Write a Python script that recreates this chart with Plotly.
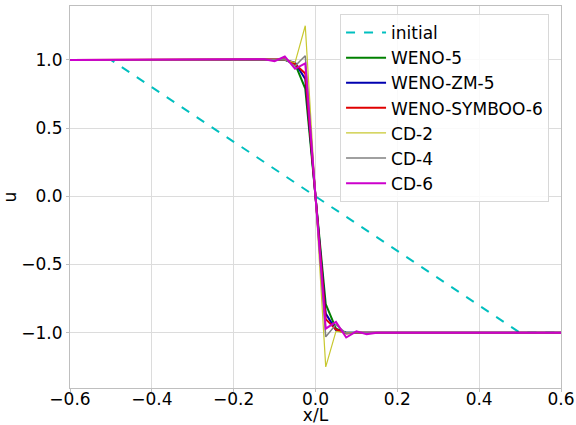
import plotly.graph_objects as go

# grid points where the solutions are drawn
x_pts = [-0.6, -0.15, -0.125, -0.1, -0.075, -0.05, -0.025, 0.0,
         0.025, 0.05, 0.075, 0.1, 0.125, 0.15, 0.6]

x_init = [-0.6, -0.5, 0.5, 0.6]
u_init = [1.0, 1.0, -1.0, -1.0]

u_weno5 = [1.0, 1.0, 1.0, 1.0, 1.0, 0.97, 0.79, 0.0,
           -0.79, -0.97, -1.0, -1.0, -1.0, -1.0, -1.0]
u_wenozm5 = [1.0, 1.0, 1.0, 1.0, 1.0, 0.98, 0.86, 0.0,
             -0.86, -0.98, -1.0, -1.0, -1.0, -1.0, -1.0]
u_symboo6 = [1.0, 1.0, 1.0, 1.0, 1.005, 0.97, 0.9, 0.0,
             -0.9, -0.975, -1.005, -1.0, -1.0, -1.0, -1.0]
u_cd2 = [1.0, 1.0, 1.0, 1.0, 1.0, 0.98, 1.25, 0.0,
         -1.25, -0.99, -1.0, -1.0, -1.0, -1.0, -1.0]
u_cd4 = [1.0, 1.0, 1.0, 1.0, 1.005, 0.955, 1.03, 0.0,
         -1.03, -0.94, -1.005, -1.0, -1.0, -1.0, -1.0]
u_cd6 = [1.0, 1.0, 1.005, 0.99, 1.025, 0.935, 0.975, 0.0,
         -0.97, -0.92, -1.035, -0.99, -1.01, -1.0, -1.0]

x_ticks = [-0.6, -0.4, -0.2, 0.0, 0.2, 0.4, 0.6]
y_ticks = [-1.0, -0.5, 0.0, 0.5, 1.0]

fig = go.Figure()
fig.add_trace(go.Scatter(x=x_init, y=u_init, mode="lines", name="initial",
                         line=dict(color="#00bfbf", width=2, dash="dash")))
fig.add_trace(go.Scatter(x=x_pts, y=u_weno5, mode="lines", name="WENO-5",
                         line=dict(color="#008000", width=2)))
fig.add_trace(go.Scatter(x=x_pts, y=u_wenozm5, mode="lines", name="WENO-ZM-5",
                         line=dict(color="#0000b0", width=2)))
fig.add_trace(go.Scatter(x=x_pts, y=u_symboo6, mode="lines", name="WENO-SYMBOO-6",
                         line=dict(color="#e00000", width=2)))
fig.add_trace(go.Scatter(x=x_pts, y=u_cd2, mode="lines", name="CD-2",
                         line=dict(color="#c8c830", width=1.2)))
fig.add_trace(go.Scatter(x=x_pts, y=u_cd4, mode="lines", name="CD-4",
                         line=dict(color="#808080", width=1.5)))
fig.add_trace(go.Scatter(x=x_pts, y=u_cd6, mode="lines", name="CD-6",
                         line=dict(color="#cc00cc", width=2)))

axis_common = dict(showgrid=True, gridcolor="#dcdcdc", gridwidth=1,
                   showline=True, linecolor="#bfbfbf", linewidth=1, mirror=True,
                   ticks="outside", ticklen=3, tickcolor="#bfbfbf",
                   zeroline=False, automargin=False,
                   tickfont=dict(size=17, color="black"))

fig.update_layout(
    width=576, height=425,
    margin=dict(l=70, r=15, t=6, b=37),
    paper_bgcolor="white", plot_bgcolor="white",
    font=dict(family="DejaVu Sans", size=17, color="black"),
    showlegend=True,
    legend=dict(x=0.55, y=0.979, xanchor="left", yanchor="top",
                bgcolor="rgba(255,255,255,0.85)", bordercolor="#d8d8d8",
                borderwidth=1, font=dict(size=17), itemwidth=40,
                tracegroupgap=0),
    xaxis=dict(range=[-0.6, 0.6], tickvals=x_ticks,
               tickformat=".1f", ticklabelstandoff=-7,
               title=dict(text="x/L", standoff=4, font=dict(size=17)),
               **axis_common),
    yaxis=dict(range=[-1.405, 1.395], tickvals=y_ticks, tickformat=".1f",
               title=dict(text="u", standoff=6, font=dict(size=17)),
               **axis_common),
)

fig.write_html(
    "out.html",
    config={"displayModeBar": False},
    post_script="document.body.style.margin='0';document.body.style.padding='0';"
                "document.body.style.overflow='hidden';",
)
